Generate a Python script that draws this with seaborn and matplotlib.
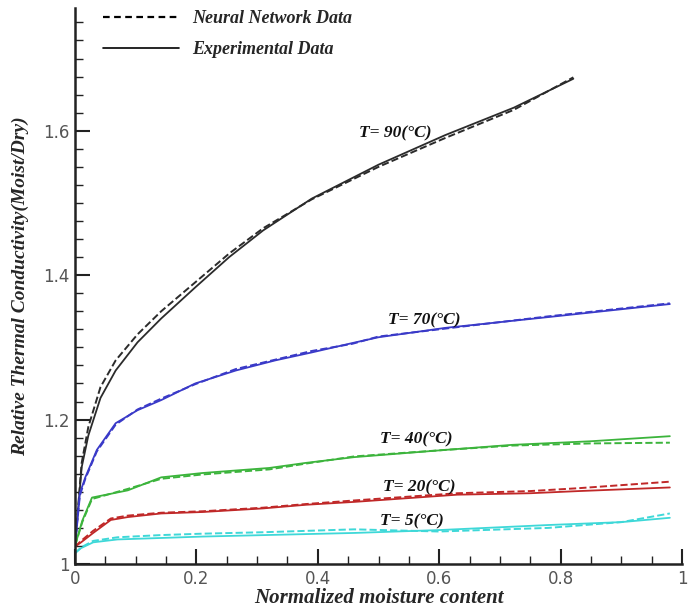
import matplotlib
matplotlib.use("Agg")
import matplotlib.pyplot as plt
from matplotlib.lines import Line2D
from matplotlib.ticker import MultipleLocator
import seaborn as sns

# Data (x = normalized moisture content)
x_90 = [0, 0.011, 0.022, 0.042, 0.067, 0.103, 0.142, 0.198, 0.254, 0.31, 0.39, 0.5, 0.61, 0.723, 0.821]
exp_90 = [1.025, 1.134, 1.178, 1.23, 1.268, 1.307, 1.34, 1.383, 1.425, 1.462, 1.506, 1.553, 1.594, 1.632, 1.672]
nn_90 = [1.025, 1.14, 1.19, 1.245, 1.282, 1.318, 1.35, 1.39, 1.43, 1.465, 1.505, 1.55, 1.59, 1.629, 1.674]

x_70 = [0, 0.008, 0.017, 0.036, 0.067, 0.103, 0.142, 0.198, 0.265, 0.33, 0.39, 0.457, 0.5, 0.61, 0.78, 0.98]
exp_70 = [1.025, 1.098, 1.12, 1.158, 1.195, 1.213, 1.227, 1.25, 1.268, 1.282, 1.293, 1.306, 1.314, 1.327, 1.342, 1.36]
nn_70 = [1.025, 1.095, 1.118, 1.156, 1.193, 1.214, 1.229, 1.249, 1.27, 1.283, 1.295, 1.305, 1.315, 1.326, 1.343, 1.361]

x_40 = [0, 0.012, 0.028, 0.087, 0.142, 0.21, 0.32, 0.38, 0.46, 0.61, 0.72, 0.85, 0.98]
exp_40 = [1.025, 1.06, 1.092, 1.102, 1.12, 1.126, 1.133, 1.14, 1.148, 1.158, 1.165, 1.17, 1.177]
nn_40 = [1.025, 1.058, 1.09, 1.104, 1.118, 1.124, 1.131, 1.139, 1.149, 1.158, 1.164, 1.167, 1.168]

x_20 = [0, 0.01, 0.03, 0.059, 0.087, 0.142, 0.21, 0.31, 0.38, 0.46, 0.63, 0.75, 0.83, 0.98]
exp_20 = [1.024, 1.03, 1.043, 1.061, 1.065, 1.07, 1.072, 1.077, 1.082, 1.086, 1.096, 1.098, 1.101, 1.106]
nn_20 = [1.024, 1.032, 1.046, 1.063, 1.067, 1.071, 1.073, 1.078, 1.083, 1.088, 1.098, 1.101, 1.105, 1.114]

x_5 = [0, 0.01, 0.03, 0.07, 0.14, 0.21, 0.31, 0.46, 0.6, 0.78, 0.9, 0.98]
exp_5 = [1.015, 1.022, 1.03, 1.034, 1.036, 1.038, 1.04, 1.043, 1.047, 1.054, 1.058, 1.064]
nn_5 = [1.015, 1.023, 1.032, 1.037, 1.04, 1.042, 1.044, 1.048, 1.045, 1.05, 1.058, 1.07]

SERIES = [
    ('T= 90(°C)', x_90, exp_90, nn_90, '#2b2b2b', (0.468, 1.597)),
    ('T= 70(°C)', x_70, exp_70, nn_70, '#3a3ac8', (0.515, 1.338)),
    ('T= 40(°C)', x_40, exp_40, nn_40, '#3cb43c', (0.503, 1.172)),
    ('T= 20(°C)', x_20, exp_20, nn_20, '#c02828', (0.507, 1.106)),
    ('T= 5(°C)', x_5, exp_5, nn_5, '#3ed8d8', (0.503, 1.059)),
]

SERIF = ['Liberation Serif', 'DejaVu Serif']
TEXT_KW = dict(family=SERIF, fontweight='bold', style='italic')

sns.set_style("ticks")

fig = plt.figure(figsize=(6.9, 6.16), dpi=100)
ax = fig.add_axes([75 / 690, 52 / 616, 607 / 690, 556 / 616])

for label, xs, exp, nn, color, pos in SERIES:
    sns.lineplot(x=xs, y=exp, ax=ax, color=color, linewidth=1.3, sort=False, estimator=None)
    sns.lineplot(x=xs, y=nn, ax=ax, color=color, linewidth=1.4, linestyle='--', dashes=(3, 2),
                 sort=False, estimator=None)
    ax.text(pos[0], pos[1], label, fontsize=12.5, va='center', ha='left', color='#111111', **TEXT_KW)

ax.set_xlim(0, 1)
ax.set_ylim(1, 1.77)
ax.xaxis.set_major_locator(MultipleLocator(0.2))
ax.xaxis.set_minor_locator(MultipleLocator(0.05))
ax.yaxis.set_major_locator(MultipleLocator(0.2))
ax.yaxis.set_minor_locator(MultipleLocator(0.025))
ax.xaxis.set_major_formatter(plt.FuncFormatter(lambda v, p: f'{v:g}'))
ax.yaxis.set_major_formatter(plt.FuncFormatter(lambda v, p: f'{v:g}'))

ax.tick_params(which='major', direction='in', length=11, width=1.5, color='#222222',
               labelsize=12, labelcolor='#555555', pad=4)
ax.tick_params(which='minor', direction='in', length=6, width=1.0, color='#222222')
sns.despine(ax=ax, top=True, right=True)
for side in ['left', 'bottom']:
    ax.spines[side].set_linewidth(1.8)
    ax.spines[side].set_color('#222222')

ax.set_xlabel('Normalized moisture content', fontsize=15, labelpad=0, **TEXT_KW)
ax.set_ylabel('Relative Thermal Conductivity(Moist/Dry)', fontsize=14, labelpad=10, **TEXT_KW)

handles = [Line2D([], [], color='black', linestyle='--', dashes=(3, 2), linewidth=1.6),
           Line2D([], [], color='black', linestyle='-', linewidth=1.2)]
ax.legend(handles, ['Neural Network Data', 'Experimental Data'], frameon=False,
          loc='upper left', bbox_to_anchor=(0.02, 1.025), handlelength=4.2, handletextpad=0.7,
          labelspacing=0.75, prop=dict(family=SERIF, weight='bold', style='italic', size=13))

fig.savefig('out.png', dpi=100)
